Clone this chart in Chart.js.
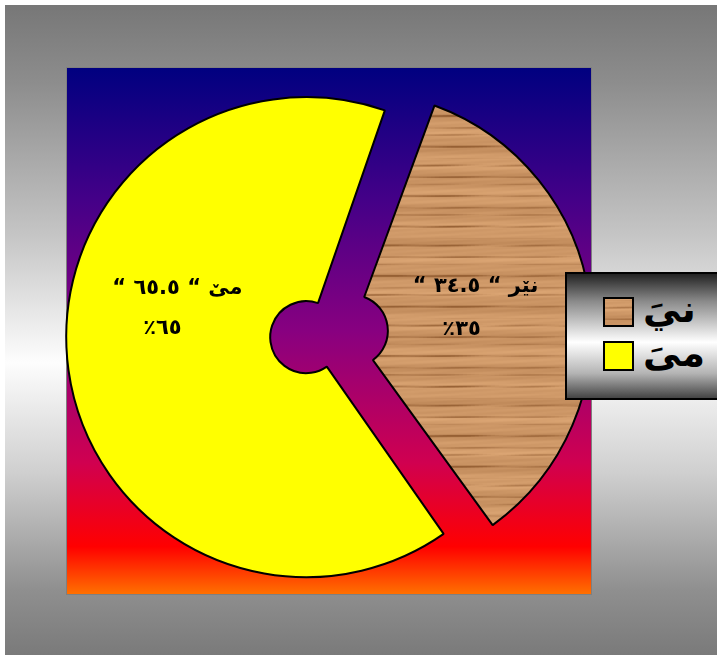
<!DOCTYPE html>
<html>
<head>
<meta charset="utf-8">
<script src="https://cdn.jsdelivr.net/npm/chart.js@4"></script>
<style>
  html, body { margin:0; padding:0; background:#fff; width:717px; height:655px; overflow:hidden; }
  #frame { position:absolute; left:5px; top:5px; width:712px; height:650px;
    background:linear-gradient(to bottom,#777 0%,#8d8d8d 12%,#c4c4c4 35%,#fdfdfd 55%,#cfcfcf 72%,#8f8f8f 90%,#7a7a7a 100%); }
  #plot { position:absolute; left:66px; top:67px; width:524px; height:526px; border:1px solid #7f7f7f;
    background:linear-gradient(to bottom,#000080 0%,#440088 25%,#880080 50%,#d00050 75%,#ff0000 91%,#ff7000 100%); }
  canvas { position:absolute; left:0; top:0; }
  #legend { position:absolute; left:565px; top:272px; width:160px; height:124px; border:2px solid #000;
    background:linear-gradient(to bottom,#222 0%,#8a8a8a 22%,#ffffff 55%,#b4b4b4 80%,#444 100%); }
  .sw { position:absolute; left:36px; width:27px; height:26px; border:2px solid #000; }
  .lt { position:absolute; left:76px; font:bold 38px "DejaVu Sans"; line-height:46px; color:#000; direction:rtl; }
</style>
</head>
<body>
<div id="frame"></div>
<div id="plot"></div>
<canvas id="woodChart" width="717" height="655"></canvas>
<canvas id="yellowChart" width="717" height="655"></canvas>
<div id="legend"></div>
<script>
// ---- data ----
const categories = ['نێر', 'مێ'];
const legendLabels = ['نيَ', 'مىَ'];
const values = [34.5, 65.5];
const percentLabels = ['٣٥', '٦٥'];

// ---- helpers ----
function toArabicDigits(v) {
  const d = '٠١٢٣٤٥٦٧٨٩';
  return String(v).replace(/[0-9]/g, c => d[+c]);
}

// wood-grain texture (style only), periodic so the tile repeats seamlessly
function makeWoodCanvas() {
  const W = 240, H = 160;
  const c = document.createElement('canvas');
  c.width = W; c.height = H;
  const g = c.getContext('2d');
  const light = [222, 168, 118], dark = [150, 96, 52];
  const fy = 2 * Math.PI / H, fx = 2 * Math.PI / W;
  for (let y = 0; y < H; y++) {
    const base = 0.78 + 0.10 * Math.sin(y * fy * 5 + 0.4) + 0.06 * Math.sin(y * fy * 14 + 2.1);
    const streak = Math.sin(y * fy * 21 + 1.1) * Math.sin(y * fy * 5 + 0.3);
    for (let x = 0; x < W; x += 4) {
      const along = 0.5 + 0.5 * Math.sin(x * fx * 2 + y * 0.7) * Math.sin(x * fx * 1 + y * 0.31);
      let s = base;
      if (streak > 0.35) s -= (streak - 0.35) * 1.6 * along;
      s += 0.04 * Math.sin(x * fx * 3 + y * 1.3);
      s = Math.max(0, Math.min(1, s));
      const col = light.map((l, k) => Math.round(dark[k] + (l - dark[k]) * s));
      g.fillStyle = 'rgb(' + col.join(',') + ')';
      g.fillRect(x, y, 4, 1);
    }
  }
  return c;
}
const woodCanvas = makeWoodCanvas();

const woodCtx = document.getElementById('woodChart').getContext('2d');
const woodPattern = woodCtx.createPattern(woodCanvas, 'repeat');
const clear = 'rgba(0,0,0,0)';

// label placement (style): shifts relative to an anchor on each slice bisector
const labelAnchorRadius = 150;
const line1Shift = [[-2, -27], [-3, -66]];
const line2Shift = [[-16, 16], [-18, -26]];

const sliceLabels = {
  id: 'sliceLabels',
  afterDatasetsDraw(chart) {
    const ctx = chart.ctx;
    const meta = chart.getDatasetMeta(0);
    ctx.save();
    ctx.fillStyle = '#000';
    ctx.font = 'bold 21px "DejaVu Sans"';
    ctx.textAlign = 'center';
    ctx.textBaseline = 'middle';
    ctx.direction = 'ltr';
    meta.data.forEach((arc, i) => {
      const p = arc.getProps(['x', 'y', 'startAngle', 'endAngle'], true);
      const mid = (p.startAngle + p.endAngle) / 2;
      const ax = p.x + Math.cos(mid) * labelAnchorRadius;
      const ay = p.y + Math.sin(mid) * labelAnchorRadius;
      const l1 = '\u201C ' + toArabicDigits(values[i].toFixed(1)) + ' \u201C \u200E' + categories[i];
      const l2 = '\u066A' + percentLabels[i];
      ctx.fillText(l1, ax + line1Shift[i][0], ay + line1Shift[i][1]);
      ctx.fillText(l2, ax + line2Shift[i][0], ay + line2Shift[i][1]);
    });
    ctx.restore();
  }
};

function makeChart(id, colors, borderWidths, radius, cutout, plugins) {
  return new Chart(document.getElementById(id), {
    type: 'doughnut',
    data: {
      labels: legendLabels,
      datasets: [{
        data: values,
        backgroundColor: colors,
        borderColor: '#000',
        borderWidth: borderWidths,
        offset: 92,
        hoverOffset: 0
      }]
    },
    options: {
      responsive: false,
      animation: false,
      devicePixelRatio: 1,
      rotation: 20,
      radius: radius,
      cutout: cutout,
      events: [],
      layout: { padding: { left: 0, right: 59, top: 13, bottom: 0 } },
      plugins: { legend: { display: false }, tooltip: { enabled: false } }
    },
    plugins: plugins
  });
}

makeChart('woodChart', [woodPattern, clear], [2, 0], 236, '13.6%', []);
makeChart('yellowChart', [clear, '#ffff00'], [0, 2], 217, '6%', [sliceLabels]);

// ---- legend (HTML) ----
const legend = document.getElementById('legend');
const swatchBg = ['url(' + woodCanvas.toDataURL() + ')', '#ffff00'];
legendLabels.forEach((lab, i) => {
  const sw = document.createElement('div');
  sw.className = 'sw';
  sw.style.top = (23 + i * 44) + 'px';
  sw.style.background = swatchBg[i];
  legend.appendChild(sw);
  const t = document.createElement('div');
  t.className = 'lt';
  t.style.top = (12 + i * 44) + 'px';
  t.textContent = lab;
  legend.appendChild(t);
});
</script>
</body>
</html>
